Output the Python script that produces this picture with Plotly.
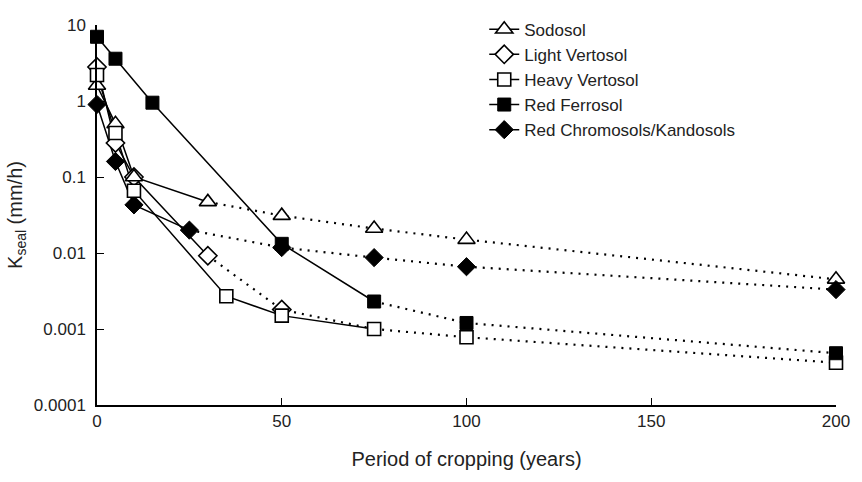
import plotly.graph_objects as go

# ---- data ----
series_names = ["Sodosol", "Light Vertosol", "Heavy Vertosol", "Red Ferrosol", "Red Chromosols/Kandosols"]

sodosol_x = [0, 5, 10, 30, 50, 75, 100, 200]
sodosol_y = [1.6, 0.5, 0.1, 0.047, 0.031, 0.021, 0.015, 0.0045]

light_vertosol_x = [0, 5, 10, 30, 50, 75]
light_vertosol_y = [2.8, 0.28, 0.1, 0.0092, 0.0018, 0.001]

heavy_vertosol_x = [0, 5, 10, 35, 50, 75, 100, 200]
heavy_vertosol_y = [2.2, 0.38, 0.066, 0.0027, 0.0015, 0.001, 0.00078, 0.00036]

red_ferrosol_x = [0, 5, 15, 50, 75, 100, 200]
red_ferrosol_y = [7.0, 3.6, 0.95, 0.0132, 0.0023, 0.0012, 0.00048]

red_chromosols_x = [0, 5, 10, 25, 50, 75, 100, 200]
red_chromosols_y = [0.9, 0.16, 0.043, 0.02, 0.0118, 0.0087, 0.0066, 0.0033]

# last x value of the solid part of each curve; beyond it the curve is dotted
solid_until = [30, 30, 75, 75, 25]
# last x value at which each curve shows its own marker (later points only carry the line)
marker_until = [200, 50, 200, 200, 200]

x_ticks = [0, 50, 100, 150, 200]
y_ticks = [0.0001, 0.001, 0.01, 0.1, 1, 10]
y_tick_labels = ["0.0001", "0.001", "0.01", "0.1", "1", "10"]

xs = [sodosol_x, light_vertosol_x, heavy_vertosol_x, red_ferrosol_x, red_chromosols_x]
ys = [sodosol_y, light_vertosol_y, heavy_vertosol_y, red_ferrosol_y, red_chromosols_y]

# ---- styles ----
symbols = ["triangle-up-open", "diamond-open", "square-open", "square", "diamond"]
sizes = [15, 14, 13, 13, 14]
marker_styles = []
for s in symbols:
    if s.endswith("-open"):
        marker_styles.append(dict(symbol=s.replace("-open", ""), color="white",
                                  line=dict(color="black", width=1.6)))
    else:
        marker_styles.append(dict(symbol=s, color="black", line=dict(color="black", width=1)))

FONT = "Liberation Sans, Arial, Helvetica, sans-serif"
TXT = "#222"
fig = go.Figure()

# lines first (solid and dotted parts)
for i in range(len(series_names)):
    x, y = xs[i], ys[i]
    k = x.index(solid_until[i])
    fig.add_trace(go.Scatter(x=x[:k + 1], y=y[:k + 1], mode="lines",
                             line=dict(color="black", width=1.5),
                             showlegend=False, hoverinfo="skip", cliponaxis=False))
    fig.add_trace(go.Scatter(x=x[k:], y=y[k:], mode="lines",
                             line=dict(color="black", width=2.2, dash="2px,6px"),
                             showlegend=False, hoverinfo="skip", cliponaxis=False))

# markers on top
order = [1, 0, 4, 2, 3]
for i in order:
    ms = marker_styles[i]
    m = xs[i].index(marker_until[i]) + 1
    fig.add_trace(go.Scatter(x=xs[i][:m], y=ys[i][:m], mode="markers",
                             marker=dict(size=sizes[i], **ms),
                             showlegend=False, cliponaxis=False, name=series_names[i]))

# legend entries
for i in range(len(series_names)):
    ms = marker_styles[i]
    fig.add_trace(go.Scatter(x=[None], y=[None], mode="lines+markers", name=series_names[i],
                             line=dict(color="black", width=1.5),
                             marker=dict(size=sizes[i], **ms)))

fig.update_layout(
    width=862, height=482,
    margin=dict(l=97, r=18, t=21, b=77),
    paper_bgcolor="white", plot_bgcolor="white",
    font=dict(family=FONT, size=17, color=TXT),
    showlegend=True,
    legend=dict(x=0.524, y=1.035, xanchor="left", yanchor="top",
                bgcolor="rgba(0,0,0,0)", font=dict(size=17, family=FONT, color=TXT),
                tracegroupgap=0, itemwidth=30),
    xaxis=dict(range=[0, 200], tickvals=x_ticks, ticks="inside", ticklen=7,
               tickcolor="black", showline=True, linecolor="black", linewidth=1.5,
               showgrid=False, zeroline=False,
               tickfont=dict(size=17, family=FONT, color=TXT),
               title=dict(text="Period of cropping (years)", standoff=22,
                          font=dict(size=20, family=FONT, color=TXT))),
    yaxis=dict(type="log", range=[-4, 1], tickvals=y_ticks, ticktext=y_tick_labels,
               ticks="inside", ticklen=7, tickcolor="black", showline=True,
               linecolor="black", linewidth=1.5, showgrid=False, zeroline=False,
               ticklabelstandoff=6,
               tickfont=dict(size=17, family=FONT, color=TXT),
               title=dict(text="K<sub>seal</sub> (mm/h)", standoff=6,
                          font=dict(size=20, family=FONT, color=TXT))),
)

fig.write_html("out.html")
